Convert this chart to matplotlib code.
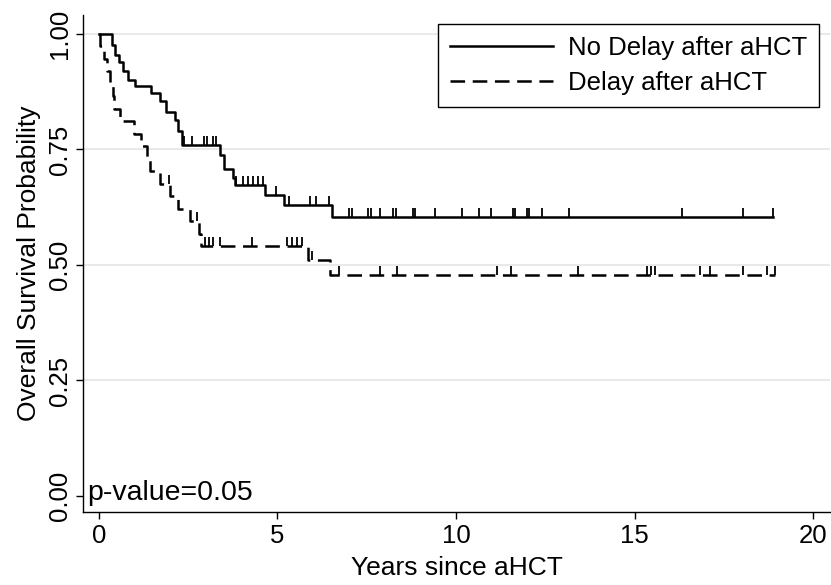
import matplotlib
matplotlib.use('Agg')
import matplotlib.pyplot as plt
import numpy as np

plt.rcParams['font.family'] = ['Liberation Sans', 'DejaVu Sans']
plt.rcParams['lines.scale_dashes'] = False

# ---- data ----
nodelay_times = [0.37, 0.45, 0.55, 0.66, 0.80, 1.01, 1.45, 1.70, 1.88, 2.13, 2.22, 2.32,
                 3.39, 3.50, 3.75, 3.81, 4.65, 5.18, 6.52]
nodelay_surv = [0.976, 0.955, 0.940, 0.920, 0.900, 0.888, 0.872, 0.855, 0.832, 0.814, 0.790, 0.760,
                0.738, 0.708, 0.688, 0.673, 0.652, 0.630, 0.604]
nodelay_end = 18.89
nodelay_censor = [2.38, 2.60, 2.94, 3.02, 3.20, 3.28,
                  3.84, 4.04, 4.18, 4.32, 4.46, 4.60,
                  4.96,
                  5.33, 5.91, 6.08, 6.45,
                  7.01, 7.08, 7.54, 7.61, 7.87, 8.24, 8.31, 8.79, 8.85, 9.41, 10.18, 10.64,
                  10.99, 11.61, 11.65, 11.98, 12.04, 12.40, 13.17, 16.34, 18.03, 18.89]

delay_times = [0.03, 0.13, 0.22, 0.30, 0.38, 0.41, 0.59, 0.98, 1.17, 1.35, 1.43, 1.72,
               2.00, 2.22, 2.55, 2.80, 2.87, 5.86, 6.47]
delay_surv = [0.973, 0.946, 0.919, 0.892, 0.865, 0.838, 0.811, 0.784, 0.757, 0.730, 0.703, 0.676,
              0.649, 0.622, 0.595, 0.568, 0.541, 0.511, 0.478]
delay_end = 18.94
delay_censor = [1.97, 2.74,
                2.97, 3.09, 3.20, 3.39, 4.28, 5.26, 5.40, 5.54, 5.68,
                5.96,
                6.73, 7.87, 8.34, 11.14, 11.54, 13.43, 15.34, 15.45, 15.57, 16.83, 17.11,
                18.03, 18.70, 18.94]

group_labels = ['No Delay after aHCT', 'Delay after aHCT']
xticks = [0, 5, 10, 15, 20]
yticks = [0.0, 0.25, 0.5, 0.75, 1.0]
ytick_labels = ['0.00', '0.25', '0.50', '0.75', '1.00']
p_text = 'p-value=0.05'

# ---- figure ----
W, H = 831, 585
fig = plt.figure(figsize=(W / 100, H / 100), dpi=100)
ax = fig.add_axes([83 / W, 1 - 512 / H, 747 / W, 497 / H])

for yv in yticks[1:]:
    ax.axhline(yv, color='#e9e9e9', lw=1.5, zorder=0)


def km_xy(times, surv, end):
    x = [0.0] + list(times) + [end]
    y = [1.0] + list(surv) + [surv[-1]]
    return x, y


def surv_at(times, surv, t):
    i = np.searchsorted(times, t, side='right') - 1
    return 1.0 if i < 0 else surv[i]


lw = 1.8
x1, y1 = km_xy(nodelay_times, nodelay_surv, nodelay_end)
ax.step(x1, y1, where='post', color='black', lw=lw, label=group_labels[0], zorder=3)
x2, y2 = km_xy(delay_times, delay_surv, delay_end)
ax.step(x2, y2, where='post', color='black', lw=lw, linestyle=(0, (10.5, 5.5)),
        label=group_labels[1], zorder=3)

tick_h = 0.019
for times, surv, cens in [(nodelay_times, nodelay_surv, nodelay_censor),
                          (delay_times, delay_surv, delay_censor)]:
    levels = np.array([surv_at(times, surv, c) for c in cens])
    ax.vlines(cens, levels, levels + tick_h, color='black', lw=1.3, zorder=3)

ax.set_xlim(-0.448, 20.476)
ax.set_ylim(-0.0346, 1.041)

ax.set_xticks(xticks)
ax.set_yticks(yticks)
ax.set_yticklabels(ytick_labels, rotation=90, va='center')
ax.tick_params(axis='both', direction='out', length=5, width=1.0, labelsize=18.5, colors='black')
ax.tick_params(axis='x', pad=3.5)
ax.tick_params(axis='y', pad=3)

for s in ['top', 'right']:
    ax.spines[s].set_visible(False)
for s in ['left', 'bottom']:
    ax.spines[s].set_linewidth(1.0)

ax.set_xlabel('Years since aHCT', fontsize=19, labelpad=6)
ax.set_ylabel('Overall Survival Probability', fontsize=19, labelpad=5)

ax.text(0.005, 0.038, p_text, transform=ax.transAxes, fontsize=20.5, va='center', ha='left')

leg = ax.legend(loc='upper right', bbox_to_anchor=(0.985, 0.982), borderaxespad=0,
                fontsize=18.5, frameon=True, fancybox=False, framealpha=1,
                edgecolor='black', handlelength=4.0, handletextpad=0.6,
                labelspacing=0.45, borderpad=0.45)
leg.get_frame().set_linewidth(1.0)

fig.savefig('out.png', dpi=100)
